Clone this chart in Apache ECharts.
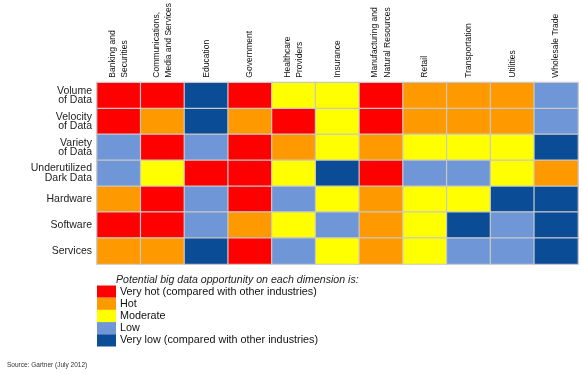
<!DOCTYPE html>
<html>
<head>
<meta charset="utf-8">
<script src="https://cdn.jsdelivr.net/npm/echarts@6/dist/echarts.min.js"></script>
<style>html,body{margin:0;padding:0;background:#fff;}#c{width:582px;height:374px;}</style>
</head>
<body>
<div id="c"></div>
<script>
var industries = ['Banking and\nSecurities', 'Communications,\nMedia and Services', 'Education', 'Government', 'Healthcare\nProviders', 'Insurance', 'Manufacturing and\nNatural Resources', 'Retail', 'Transportation', 'Utilities', 'Wholesale Trade'];
var dimensions = ['Volume\nof Data', 'Velocity\nof Data', 'Variety\nof Data', 'Underutilized\nDark Data', 'Hardware', 'Software', 'Services'];
// 5 = very hot, 4 = hot, 3 = moderate, 2 = low, 1 = very low
var volume        = [5, 5, 1, 5, 3, 3, 5, 4, 4, 4, 2];
var velocity      = [5, 4, 1, 4, 5, 3, 5, 4, 4, 4, 2];
var variety       = [2, 5, 2, 5, 4, 3, 4, 3, 3, 3, 1];
var underutilized = [2, 3, 5, 5, 3, 1, 5, 2, 2, 3, 4];
var hardware      = [4, 5, 2, 5, 2, 3, 4, 3, 3, 1, 1];
var software      = [5, 5, 2, 4, 3, 2, 4, 3, 1, 2, 1];
var services      = [4, 4, 1, 5, 2, 3, 4, 3, 2, 2, 1];
var levelLabels = ['Very hot (compared with other industries)', 'Hot', 'Moderate', 'Low', 'Very low (compared with other industries)'];
var levelValues = [5, 4, 3, 2, 1];
var levelColors = ['#ff0000', '#ff9900', '#ffff00', '#6f96d6', '#0a4c96'];

var rows = [volume, velocity, variety, underutilized, hardware, software, services];
var data = [];
rows.forEach(function (r, yi) { r.forEach(function (v, xi) { data.push([xi, yi, v]); }); });

var chart = echarts.init(document.getElementById('c'));
chart.setOption({
  animation: false,
  backgroundColor: '#fff',
  textStyle: { fontFamily: 'Liberation Sans, Arial, sans-serif' },
  title: [
    { text: 'Potential big data opportunity on each dimension is:', left: 116, top: 274.5, padding: 0,
      textStyle: { fontSize: 10.6, fontStyle: 'italic', fontWeight: 'normal', color: '#222', fontFamily: 'Liberation Sans' } },
    { text: 'Source: Gartner (July 2012)', left: 7, top: 361.5, padding: 0,
      textStyle: { fontSize: 6.5, fontWeight: 'normal', color: '#333', fontFamily: 'Liberation Sans' } }
  ],
  grid: { left: 97, right: 4, top: 81, height: 183 },
  xAxis: {
    type: 'category', data: industries, position: 'top',
    axisLine: { show: false }, axisTick: { show: false }, splitLine: { show: false },
    axisLabel: { interval: 0, rotate: -90, margin: 5, fontSize: 8.5, lineHeight: 12.5, color: '#111', fontFamily: 'Liberation Sans' }
  },
  yAxis: {
    type: 'category', data: dimensions, inverse: true,
    axisLine: { show: false }, axisTick: { show: false }, splitLine: { show: false },
    axisLabel: { margin: 5, fontSize: 10.5, lineHeight: 9.5, color: '#222', align: 'right', fontFamily: 'Liberation Sans' }
  },
  visualMap: {
    type: 'piecewise', orient: 'vertical', left: 97, top: 285.5, padding: 0,
    itemWidth: 19, itemHeight: 12.2, itemGap: 0, textGap: 4, itemSymbol: 'rect',
    showLabel: true, selectedMode: false,
    textStyle: { fontSize: 10.8, color: '#111', fontFamily: 'Liberation Sans' },
    pieces: levelValues.map(function (v, i) { return { value: v, label: levelLabels[i], color: levelColors[i] }; })
  },
  series: [{
    type: 'heatmap', data: data,
    itemStyle: { borderColor: '#c8c8c8', borderWidth: 1.2 },
    emphasis: { disabled: true }
  }]
});
</script>
</body>
</html>
